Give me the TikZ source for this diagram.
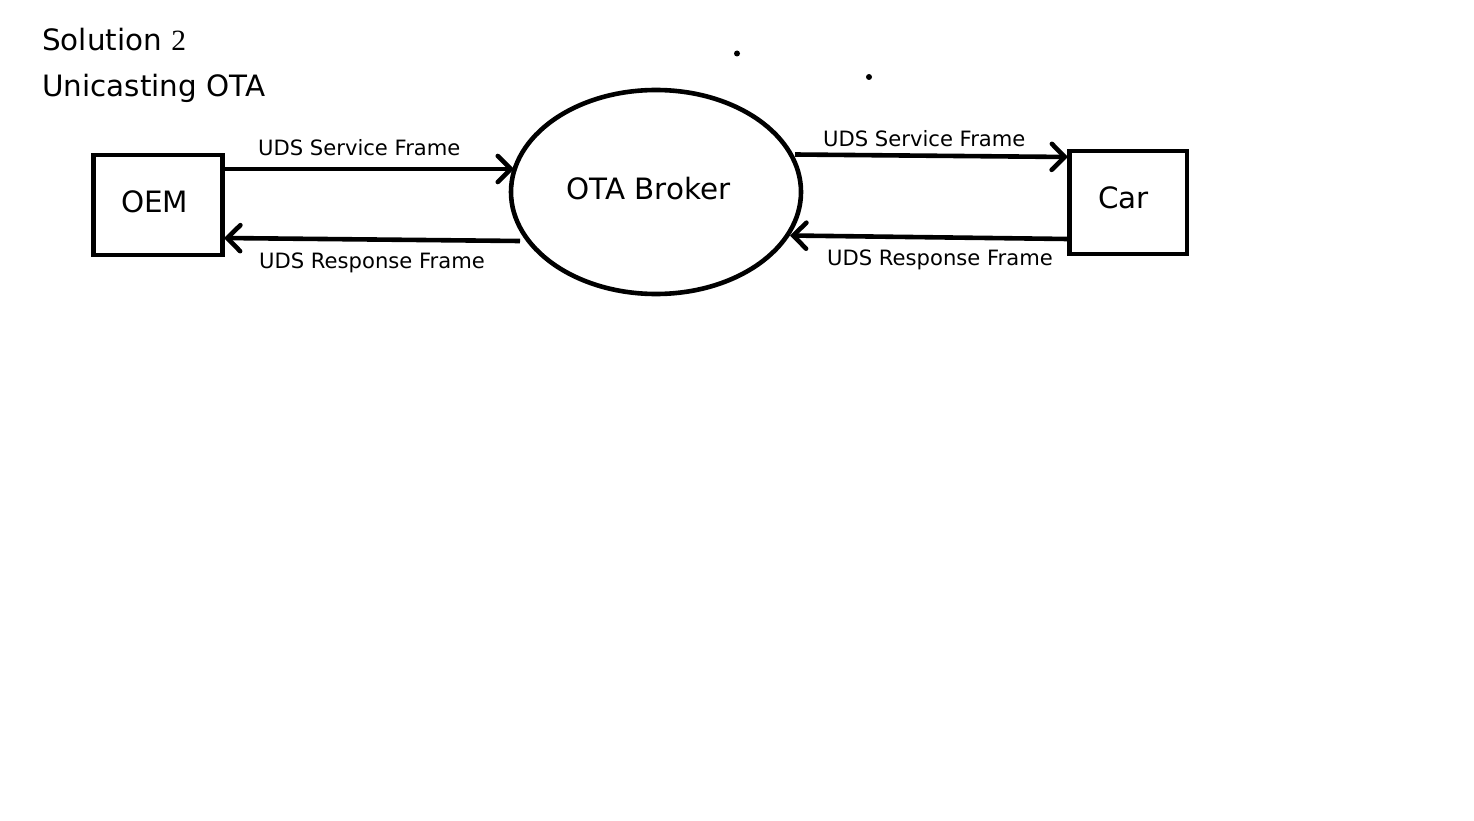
\documentclass[tikz,border=0pt]{standalone}
\usepackage{fontspec}
\setmainfont{DejaVu Sans}
\newfontfamily\numfont{Liberation Serif}
\usetikzlibrary{arrows.meta,shapes.geometric}
\tikzset{
  boxnode/.style={draw,line width=4.6pt,inner sep=0pt},
  bubble/.style={draw,ellipse,line width=4.6pt,inner sep=0pt,minimum width=290pt,minimum height=204pt},
  bigtext/.style={font=\fontsize{29.4}{34}\selectfont,anchor=base west,inner sep=0pt},
  lbl/.style={font=\fontsize{21.1}{25}\selectfont,anchor=base west,inner sep=0pt},
  flow/.style={line width=4.6pt,-{Straight Barb[length=13pt,width=26pt,line cap=round]}},
  dot/.style={fill=black,circle,inner sep=0pt,minimum size=6pt}
}
\begin{document}
\begin{tikzpicture}[x=1pt,y=-1pt]
\useasboundingbox (0,0) rectangle (1474,821);
% titles
\node[bigtext] (t1) at (42,50.5) {Solution {\numfont 2}};
\node[bigtext] (t2) at (42,96.5) {Unicasting OTA};
% dots
\node[dot] (d1) at (737,53.5) {};
\node[dot] (d2) at (869,77) {};
% boxes
\node[boxnode,minimum width=129pt,minimum height=100pt] (oem) at (158,205) {};
\node[bigtext] (oemt) at (121,212.5) {OEM};
\node[boxnode,minimum width=117.5pt,minimum height=103pt] (car) at (1128.25,202.5) {};
\node[bigtext] (cart) at (1098,208.5) {Car};
\node[bubble] (broker) at (656,192) {};
\node[bigtext] (brokert) at (566,199.5) {OTA Broker};
% endpoints
\coordinate (a1s) at (223,169);
\coordinate (a1e) at (514,169);
\coordinate (a2s) at (520,241);
\coordinate (a2e) at (224,238);
\coordinate (a3s) at (795,154.5);
\coordinate (a3e) at (1068,157);
\coordinate (a4s) at (1068,239);
\coordinate (a4e) at (790,235.5);
\draw[flow] (a1s) -- (a1e);
\draw[flow] (a2s) -- (a2e);
\draw[flow] (a3s) -- (a3e);
\draw[flow] (a4s) -- (a4e);
% labels
\node[lbl] (l1) at (258,156) {UDS Service Frame};
\node[lbl] (l2) at (259,268) {UDS Response Frame};
\node[lbl] (l3) at (823,147) {UDS Service Frame};
\node[lbl] (l4) at (827,265) {UDS Response Frame};
\end{tikzpicture}
\end{document}
